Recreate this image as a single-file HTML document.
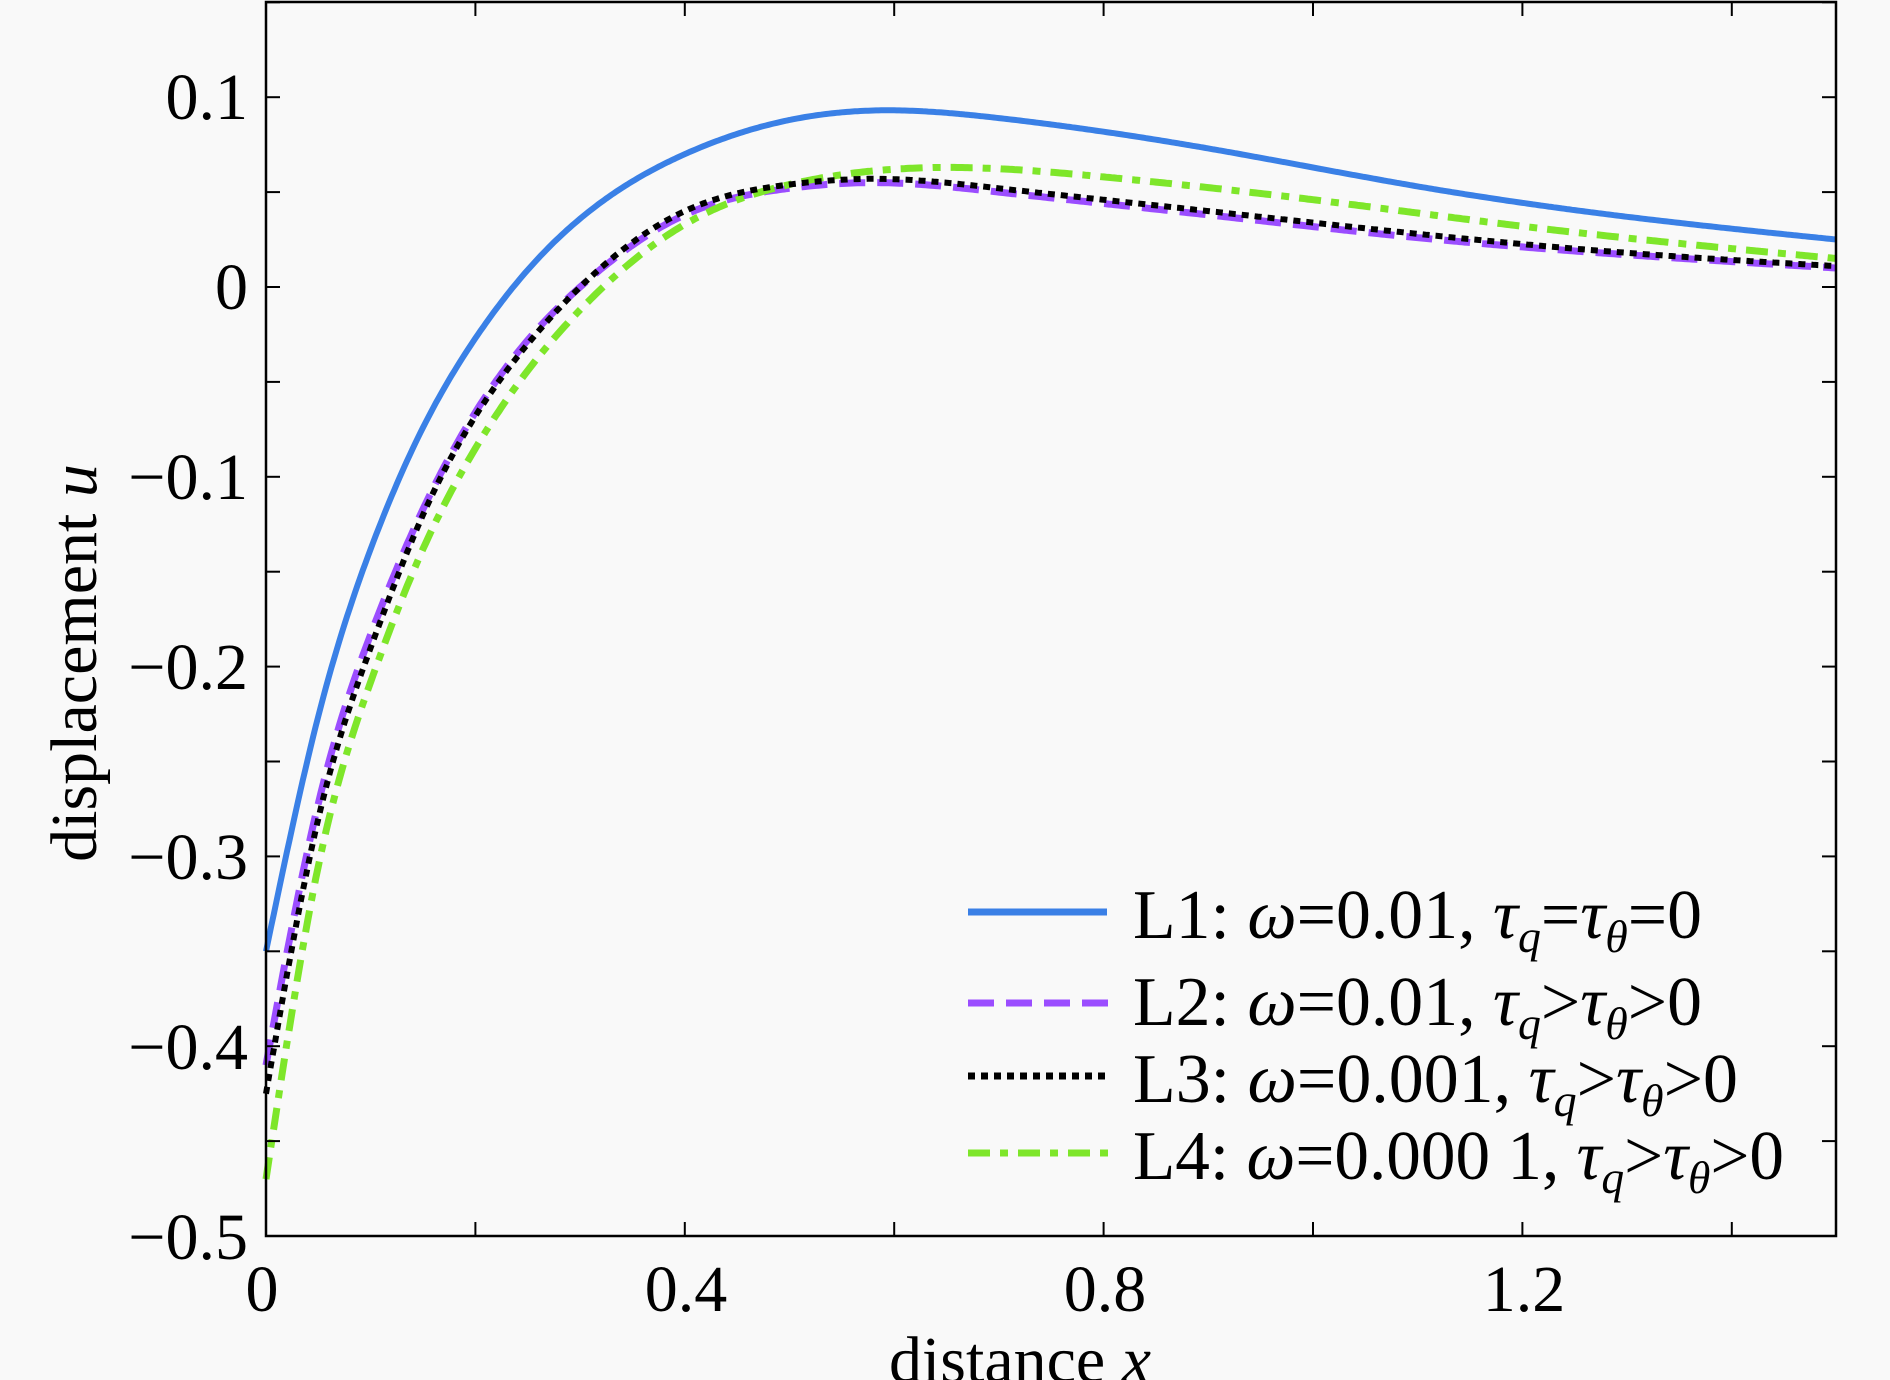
<!DOCTYPE html>
<html><head><meta charset="utf-8"><style>
html,body{margin:0;padding:0;background:#f9f9f9;}
svg{display:block;}
text{font-family:"Liberation Serif",serif;fill:#000;}
</style></head><body>
<svg id="s" width="1890" height="1380" viewBox="0 0 1890 1380" xmlns="http://www.w3.org/2000/svg">
<rect width="1890" height="1380" fill="#f9f9f9"/>
<g id="curves"></g>
<rect x="266" y="2" width="1570" height="1234" fill="none" stroke="#000" stroke-width="2.5"/>
<g id="ticks" stroke="#000" stroke-width="2"></g>
<g font-size="66" text-anchor="end">
<text x="248" y="119">0.1</text>
<text x="248" y="309">0</text>
<text x="248" y="499">−0.1</text>
<text x="248" y="689">−0.2</text>
<text x="248" y="879">−0.3</text>
<text x="248" y="1069">−0.4</text>
<text x="248" y="1259">−0.5</text>
</g>
<g font-size="66" text-anchor="middle">
<text x="262" y="1311">0</text>
<text x="686" y="1311">0.4</text>
<text x="1105" y="1311">0.8</text>
<text x="1524" y="1311">1.2</text>
<text x="1020" y="1382">distance <tspan font-style="italic">x</tspan></text>
<text transform="translate(96,663) rotate(-90)">displacement <tspan font-style="italic">u</tspan></text>
</g>
<g stroke-width="7" fill="none">
<line x1="968" y1="912" x2="1107" y2="912" stroke="#3a80e6"/>
<line x1="968" y1="1003" x2="1110" y2="1003" stroke="#9b4dff" stroke-dasharray="26,12"/>
<line x1="968" y1="1076" x2="1110" y2="1076" stroke="#000" stroke-dasharray="7,6"/>
<line x1="968" y1="1153" x2="1110" y2="1153" stroke="#7ee62a" stroke-dasharray="22,10,8,10"/>
</g>
<g font-size="70">
<text x="1133" y="938" textLength="569" lengthAdjust="spacingAndGlyphs">L1: <tspan font-style="italic">ω</tspan>=0.01, <tspan font-style="italic">τ</tspan><tspan font-style="italic" font-size="46" dy="14">q</tspan><tspan dy="-14">=</tspan><tspan font-style="italic">τ</tspan><tspan font-style="italic" font-size="46" dy="14">θ</tspan><tspan dy="-14">=0</tspan></text>
<text x="1133" y="1025" textLength="569" lengthAdjust="spacingAndGlyphs">L2: <tspan font-style="italic">ω</tspan>=0.01, <tspan font-style="italic">τ</tspan><tspan font-style="italic" font-size="46" dy="14">q</tspan><tspan dy="-14">&gt;</tspan><tspan font-style="italic">τ</tspan><tspan font-style="italic" font-size="46" dy="14">θ</tspan><tspan dy="-14">&gt;0</tspan></text>
<text x="1133" y="1102" textLength="605" lengthAdjust="spacingAndGlyphs">L3: <tspan font-style="italic">ω</tspan>=0.001, <tspan font-style="italic">τ</tspan><tspan font-style="italic" font-size="46" dy="14">q</tspan><tspan dy="-14">&gt;</tspan><tspan font-style="italic">τ</tspan><tspan font-style="italic" font-size="46" dy="14">θ</tspan><tspan dy="-14">&gt;0</tspan></text>
<text x="1133" y="1179" textLength="651" lengthAdjust="spacingAndGlyphs">L4: <tspan font-style="italic">ω</tspan>=0.000 1, <tspan font-style="italic">τ</tspan><tspan font-style="italic" font-size="46" dy="14">q</tspan><tspan dy="-14">&gt;</tspan><tspan font-style="italic">τ</tspan><tspan font-style="italic" font-size="46" dy="14">θ</tspan><tspan dy="-14">&gt;0</tspan></text>
</g>
</svg>
<script>
var X0=266,XS=1047,Y0=287,YS=1898;
function px(x){return X0+x*XS;} function py(v){return Y0-v*YS;}
var t=document.getElementById('ticks'),h='';
for(var i=0;i<=7;i++){var x=px(i*0.2);h+='<line x1="'+x+'" y1="1236" x2="'+x+'" y2="1222"/><line x1="'+x+'" y1="2" x2="'+x+'" y2="16"/>';}
for(var v=-0.5;v<=0.151;v+=0.05){var y=py(v);h+='<line x1="266" y1="'+y+'" x2="280" y2="'+y+'"/><line x1="1836" y1="'+y+'" x2="1822" y2="'+y+'"/>';}
t.innerHTML=h;
function spline(pts){
  var n=pts.length,x=pts.map(p=>p[0]),y=pts.map(p=>p[1]),hh=[],al=[],l=[1],mu=[0],z=[0],c=new Array(n).fill(0),b=[],d=[];
  for(var i=0;i<n-1;i++)hh[i]=x[i+1]-x[i];
  for(var i=1;i<n-1;i++)al[i]=3/hh[i]*(y[i+1]-y[i])-3/hh[i-1]*(y[i]-y[i-1]);
  for(var i=1;i<n-1;i++){l[i]=2*(x[i+1]-x[i-1])-hh[i-1]*mu[i-1];mu[i]=hh[i]/l[i];z[i]=(al[i]-hh[i-1]*z[i-1])/l[i];}
  for(var j=n-2;j>=0;j--){c[j]=(j>0?z[j]:0)-mu[j]*c[j+1];b[j]=(y[j+1]-y[j])/hh[j]-hh[j]*(c[j+1]+2*c[j])/3;d[j]=(c[j+1]-c[j])/(3*hh[j]);}
  var s='';
  for(var k=0;k<=600;k++){var xx=1.5*k/600,j=0;while(j<n-2&&xx>x[j+1])j++;var dx=xx-x[j];
    var yy=y[j]+b[j]*dx+c[j]*dx*dx+d[j]*dx*dx*dx;s+=(k?'L':'M')+px(xx).toFixed(1)+','+py(yy).toFixed(1);}
  return s;}
var L1=[[0,-0.35],[0.05,-0.226],[0.1,-0.138],[0.15,-0.074],[0.2,-0.027],[0.25,0.009],[0.3,0.036],[0.4,0.07],[0.5,0.088],[0.58,0.093],[0.7,0.089],[0.9,0.073],[1.1,0.053],[1.3,0.037],[1.5,0.025]];
var L2=[[0,-0.41],[0.05,-0.272],[0.1,-0.183],[0.15,-0.117],[0.2,-0.066],[0.25,-0.028],[0.3,0.0],[0.4,0.038],[0.5,0.052],[0.58,0.055],[0.7,0.05],[0.9,0.038],[1.1,0.026],[1.3,0.017],[1.5,0.01]];
var L3=[[0,-0.425],[0.05,-0.28],[0.1,-0.19],[0.15,-0.12],[0.2,-0.068],[0.25,-0.03],[0.3,0.0],[0.4,0.04],[0.5,0.054],[0.58,0.057],[0.7,0.052],[0.9,0.04],[1.1,0.028],[1.3,0.018],[1.5,0.011]];
var L4=[[0,-0.47],[0.05,-0.305],[0.1,-0.208],[0.15,-0.138],[0.2,-0.085],[0.25,-0.044],[0.3,-0.012],[0.4,0.033],[0.5,0.054],[0.65,0.063],[0.8,0.058],[1.0,0.046],[1.2,0.032],[1.5,0.015]];
var c=document.getElementById('curves');
c.innerHTML='<path d="'+spline(L1)+'" stroke="#3a80e6" stroke-width="6" fill="none"/>'+
'<path d="'+spline(L2)+'" stroke="#9b4dff" stroke-width="7" stroke-dasharray="26,12" fill="none"/>'+
'<path d="'+spline(L4)+'" stroke="#7ee62a" stroke-width="7" stroke-dasharray="22,10,8,10" fill="none"/>'+
'<path d="'+spline(L3)+'" stroke="#000" stroke-width="6" stroke-dasharray="7,6" fill="none"/>';
</script>
</body></html>
